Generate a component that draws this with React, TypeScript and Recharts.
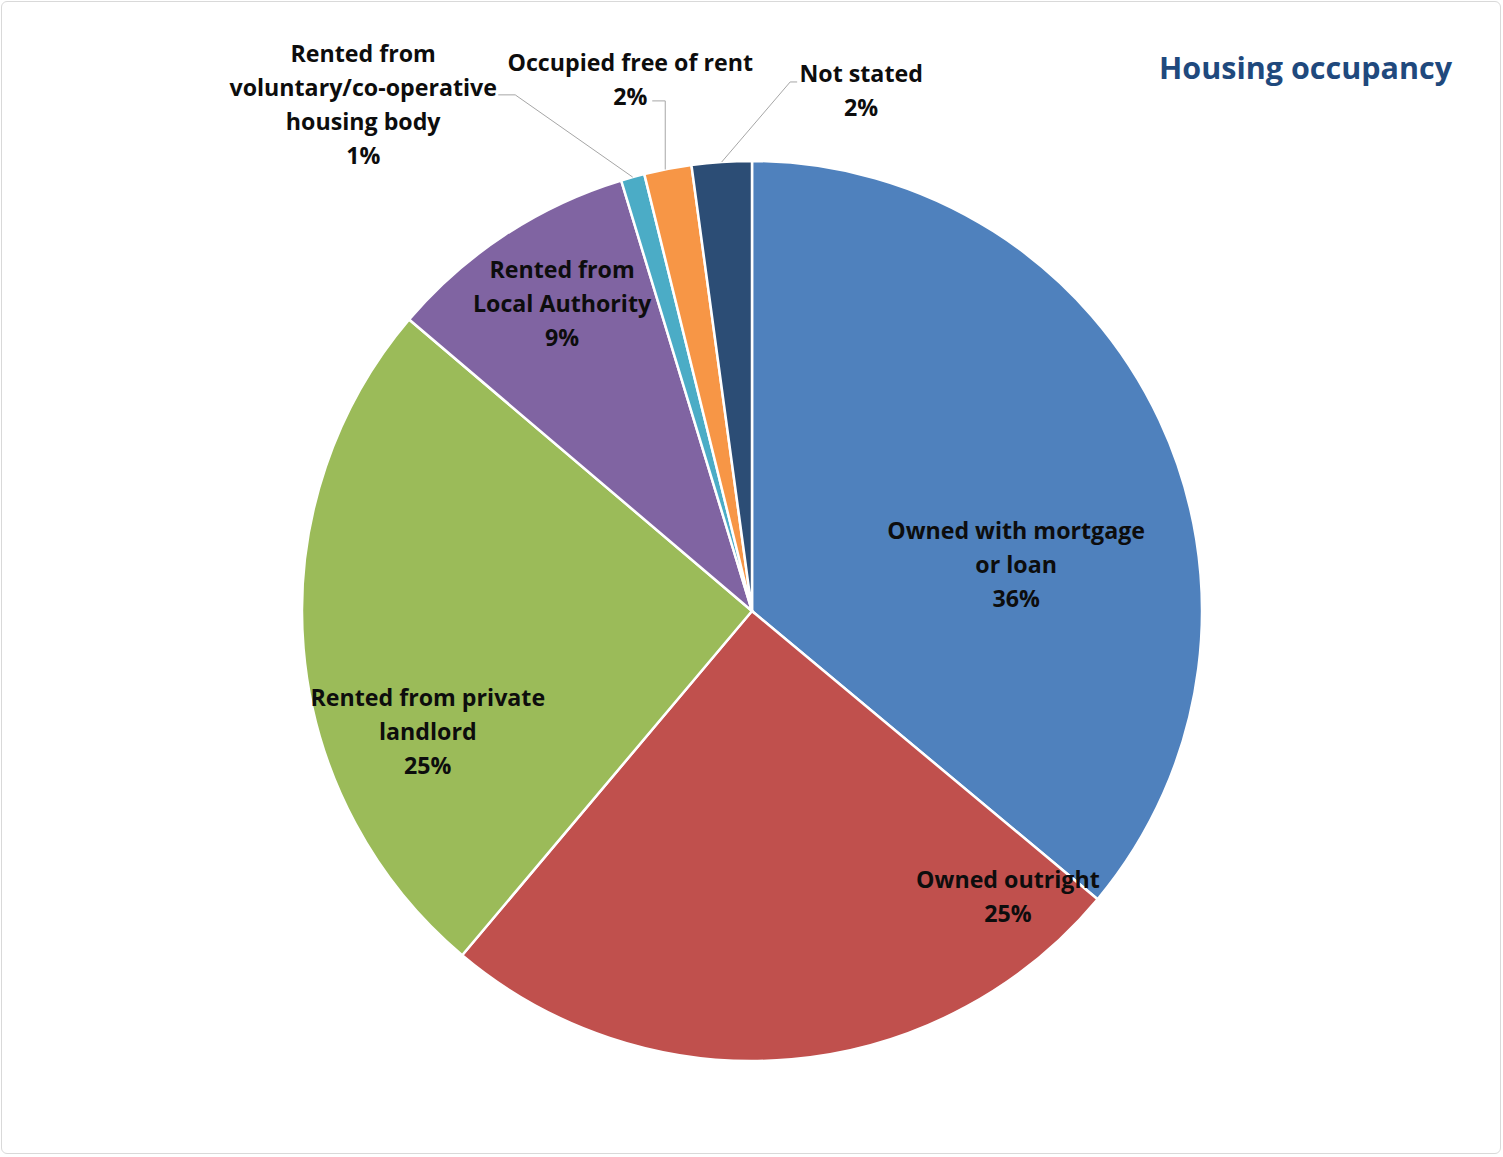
import React from 'react';
import { PieChart, Pie, Cell } from 'recharts';

const CATEGORIES = [
  'Owned with mortgage or loan',
  'Owned outright',
  'Rented from private landlord',
  'Rented from Local Authority',
  'Rented from voluntary/co-operative housing body',
  'Occupied free of rent',
  'Not stated',
];
const VALUES = [36.1, 25.1, 25.1, 9.1, 0.85, 1.7, 2.15];
const COLORS = ['#4F81BD', '#C0504D', '#9BBB59', '#8064A2', '#4BACC6', '#F79646', '#2C4D75'];
const LABEL_LINES = [
  ['Owned with mortgage', 'or loan'],
  ['Owned outright'],
  ['Rented from private', 'landlord'],
  ['Rented from', 'Local Authority'],
  ['Rented from', 'voluntary/co-operative', 'housing body'],
  ['Occupied free of rent'],
  ['Not stated'],
];
const TITLE = 'Housing occupancy';

const data = CATEGORIES.map((name, i) => ({ name, value: VALUES[i] }));

const FONT = '"Open Sans", Lato, sans-serif';
const LABEL_SIZE = 23.2;
const LINE_H = 34;

type LineSpec = { ex: number; ey: number; hx: number; vertical?: boolean };
const LAYOUT: { k: number; dA: number; line?: LineSpec }[] = [
  { k: 0.596, dA: 15.05 },
  { k: 0.851, dA: -36.9 },
  { k: 0.768, dA: -15.5 },
  { k: 0.804, dA: 1.6 },
  { k: 1.42, dA: -22.1, line: { ex: 135, ey: -9, hx: 17 } },
  { k: 1.213, dA: -2.1, line: { ex: 22, ey: 22, hx: 13, vertical: true } },
  { k: 1.183, dA: 15.7, line: { ex: -64, ey: -8, hx: -7 } },
];

const RAD = Math.PI / 180;

const renderLabel = (props: any) => {
  const { cx, cy, midAngle, outerRadius, index, percent } = props;
  const lay = LAYOUT[index];
  const theta = 90 - midAngle + lay.dA; // clockwise from top
  const r = outerRadius * lay.k;
  const ax = cx + r * Math.sin(theta * RAD);
  const ay = cy - r * Math.cos(theta * RAD);
  const lines = [...LABEL_LINES[index], `${Math.round(percent * 100)}%`];
  const n = lines.length;
  let leader: React.ReactNode = null;
  if (lay.line) {
    const c = { x: ax + lay.line.ex, y: ay + lay.line.ey };
    const b = { x: c.x + lay.line.hx, y: c.y };
    let a;
    if (lay.line.vertical) {
      const dx = b.x - cx;
      a = { x: b.x, y: cy - Math.sqrt(outerRadius * outerRadius - dx * dx) };
    } else {
      const t = (90 - midAngle) * RAD;
      a = { x: cx + outerRadius * Math.sin(t), y: cy - outerRadius * Math.cos(t) };
    }
    leader = (
      <polyline
        points={`${c.x},${c.y} ${b.x},${b.y} ${a.x},${a.y}`}
        fill="none"
        stroke="#A6A6A6"
        strokeWidth={1}
      />
    );
  }
  return (
    <g key={`lbl-${index}`}>
      {leader}
      <text
        textAnchor="middle"
        fontFamily={FONT}
        fontWeight={700}
        fontSize={LABEL_SIZE}
        fill="#0D0D0D"
      >
        {lines.map((l, i) => (
          <tspan key={i} x={ax} y={ay + (i - (n - 1) / 2) * LINE_H} dominantBaseline="central">
            {l}
          </tspan>
        ))}
      </text>
    </g>
  );
};

export default function App() {
  return (
    <div style={{ position: 'absolute', left: 0, top: 0, width: 1503, height: 1157, background: '#fff' }}>
      <div
        style={{
          position: 'absolute',
          left: 1,
          top: 1,
          width: 1500,
          height: 1153,
          boxSizing: 'border-box',
          border: '1.5px solid #D9D9D9',
          borderRadius: 6,
        }}
      />
      <PieChart width={1503} height={1157} style={{ position: 'absolute', left: 0, top: 0 }}>
        <Pie
          data={data}
          dataKey="value"
          nameKey="name"
          cx={747}
          cy={606}
          outerRadius={450}
          startAngle={90}
          endAngle={-270}
          stroke="#FFFFFF"
          strokeWidth={2.5}
          label={renderLabel}
          labelLine={false}
          isAnimationActive={false}
        >
          {data.map((d, i) => (
            <Cell key={d.name} fill={COLORS[i]} />
          ))}
        </Pie>
      </PieChart>
      <svg width={1503} height={1157} style={{ position: 'absolute', left: 0, top: 0, pointerEvents: 'none' }}>
        <text x={1452} y={79} textAnchor="end" fontFamily={FONT} fontWeight={700} fontSize={30.5} fill="#1F497D">
          {TITLE}
        </text>
      </svg>
    </div>
  );
}
